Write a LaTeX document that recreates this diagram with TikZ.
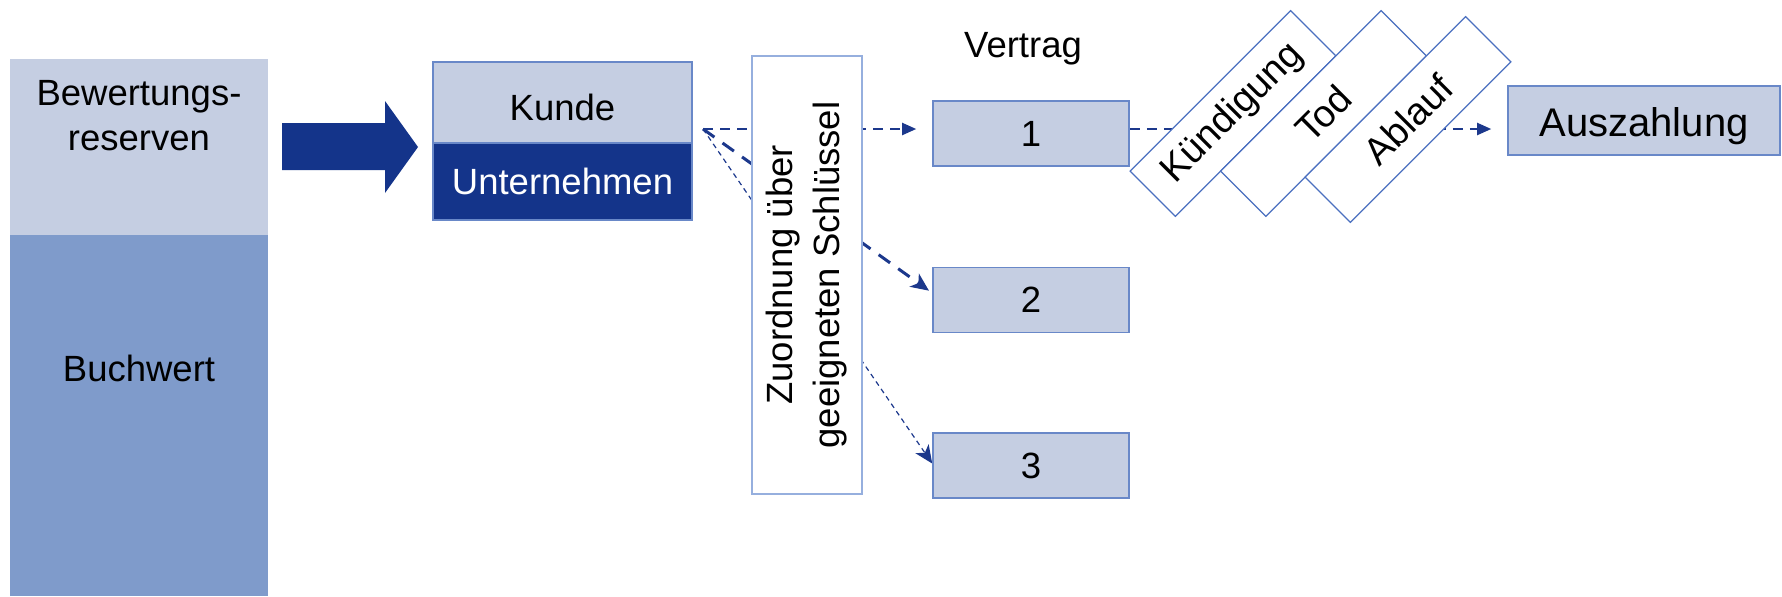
\documentclass[tikz,border=0pt]{standalone}
\usepackage{fontspec}
\setmainfont{Liberation Sans}
\usetikzlibrary{arrows.meta,backgrounds,calc}
\definecolor{lightfill}{RGB}{197,206,226}
\definecolor{midfill}{RGB}{127,155,203}
\definecolor{darkblue}{RGB}{20,52,138}
\definecolor{boxborder}{RGB}{105,136,200}
\definecolor{zuoborder}{RGB}{150,175,222}
\definecolor{rotborder}{RGB}{75,112,192}
\definecolor{linecol}{RGB}{28,56,140}
\tikzset{
  txt/.style={inner sep=0pt, font=\fontsize{18.25pt}{22.5pt}\selectfont},
  plainbox/.style={inner sep=0pt, outer sep=0pt},
  cbox/.style={draw=boxborder, line width=0.8pt, fill=lightfill, inner sep=0pt,
    minimum width=98pt, minimum height=32.5pt, font=\fontsize{18.25pt}{22.5pt}\selectfont},
  kbox/.style={draw=boxborder, line width=0.6pt, inner sep=0pt,
    minimum width=129.5pt, font=\fontsize{18.25pt}{22.5pt}\selectfont},
  rbox/.style={draw=rotborder, line width=0.6pt, fill=white, rotate=45, inner sep=0pt,
    minimum width=113.5pt, minimum height=32pt, font=\fontsize{19pt}{23pt}\selectfont},
  dlone/.style={linecol, line width=1pt, dash pattern=on 5pt off 3.5pt,
    -{Triangle[length=7pt,width=6pt]}},
  dltwo/.style={linecol, line width=1.5pt, dash pattern=on 7pt off 5pt,
    -{Stealth[length=9pt,width=8pt,inset=2.5pt]}},
  dlthree/.style={linecol, line width=0.6pt, dash pattern=on 2.5pt off 2pt,
    -{Stealth[length=9pt,width=8pt,inset=2.5pt]}}
}
\begin{document}
\begin{tikzpicture}[x=0.5pt,y=-0.5pt]
\useasboundingbox (0,0) rectangle (1782,596);

% left stacked column
\node[plainbox, fill=lightfill, minimum width=129pt, minimum height=88pt] (bew) at (139,147) {};
\node[plainbox, fill=midfill, minimum width=129pt, minimum height=180.5pt] (buch) at (139,415.5) {};
\node[txt, align=center] (bewt) at (139,115.5) {Bewertungs-\\reserven};
\node[txt] (bucht) at (139,368) {Buchwert};

% big arrow
\fill[darkblue] (282,123) -- (385,123) -- (385,101) -- (418,147) -- (385,193) -- (385,170) -- (282,170) -- cycle;

% Kunde / Unternehmen
\node[kbox, fill=lightfill, minimum height=40.5pt, text height=17.5pt, text depth=0pt] (kunde) at (562.5,102.5) {Kunde};
\node[kbox, fill=darkblue, text=white, minimum height=38.5pt] (untern) at (562.5,181.5) {Unternehmen};

\coordinate (src) at (703,129);

% Zuordnung box
\node[draw=zuoborder, line width=0.8pt, fill=white, rotate=90, inner sep=0pt,
  minimum width=219pt, minimum height=55pt, align=center,
  font=\fontsize{18.25pt}{23.5pt}\selectfont] (zuo) at (807,275)
  {Zuordnung über\\geeigneten Schlüssel};

% Vertrag boxes
\node[txt, anchor=base] (vertrag) at (1023,57) {Vertrag};
\node[cbox] (b1) at (1031,133.5) {1};
\node[cbox] (b2) at (1031,300) {2};
\node[cbox] (b3) at (1031,465.5) {3};

% rotated event boxes
\node[rbox] (kuend) at (1233,113.5) {Kündigung};
\node[rbox] (tod) at (1323.5,113.5) {Tod};
\node[rbox] (ablauf) at (1408,119.5) {Ablauf};

% Auszahlung
\node[cbox, minimum width=136pt, minimum height=34.5pt, text height=16pt, text depth=0pt,
  font=\fontsize{20pt}{24pt}\selectfont] (ausz) at (1644,120.5) {Auszahlung};

% connectors behind the boxes
\begin{pgfonlayer}{background}
\draw[dlone, shorten >=8pt] (src) -- (src -| b1.west);
\draw[dltwo, shorten >=2pt] (src) -- ([yshift=3.5pt]b2.west);
\draw[dlthree] (src) -- ([yshift=1pt]b3.west);
\draw[dlone, shorten >=8pt] ([yshift=2.25pt]b1.east) -- ([yshift=2.25pt]b1.east -| ausz.west);
\end{pgfonlayer}
\end{tikzpicture}
\end{document}
